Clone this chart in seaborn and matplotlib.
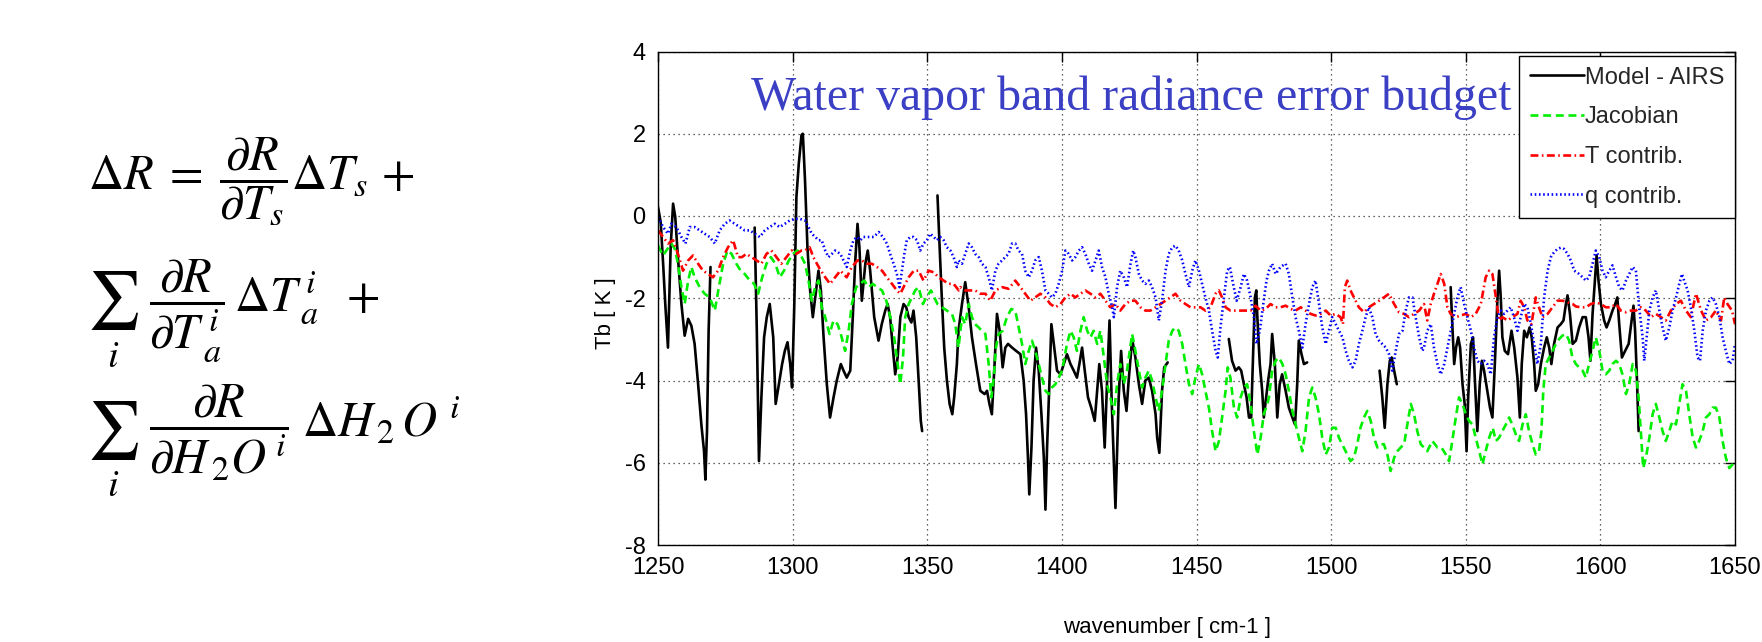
import numpy as np
import pandas as pd
import matplotlib
matplotlib.use("Agg")
import matplotlib.pyplot as plt
from matplotlib.lines import Line2D
import seaborn as sns

# ---------------- data ----------------
# Model - AIRS (black), split into the visible segments
model_seg1_wn = [1250.0,1251.0,1251.9,1252.7,1253.7,1254.7,1255.6,1256.4,1257.4,1258.7,1259.9,1261.2,1262.4,1263.6,1264.9,1266.1,1267.1,1267.6,1268.2,1268.8,1269.5]
model_seg1_tb = [0.22,-0.15,-1.16,-2.14,-3.2,-0.76,0.3,-0.02,-1.0,-2.14,-2.91,-2.5,-2.67,-3.11,-4.09,-5.07,-5.72,-6.41,-5.23,-2.79,-1.24]
model_seg2_wn = [1285.9,1286.7,1287.5,1288.4,1289.4,1290.4,1291.5,1292.8,1293.7,1294.9,1296.1,1297.1,1298.1,1299.1,1299.8,1300.6,1301.4,1302.3,1303.3,1303.8,1304.6,1305.5,1306.5,1307.5,1308.4,1309.6,1310.5,1311.5,1312.7,1313.9,1315.2,1316.4,1317.9,1318.9,1320.1,1321.4,1322.4,1323.2,1324.1,1324.8,1325.7,1327.0,1327.9,1328.8,1330.3,1331.9,1333.1,1334.4,1335.3,1336.2,1337.2,1338.1,1339.0,1340.0,1341.2,1342.2,1343.1,1344.1,1344.9,1345.9,1346.8,1347.6,1348.1]
model_seg2_tb = [-0.28,-2.79,-5.96,-4.41,-2.95,-2.46,-2.14,-2.95,-4.57,-4.09,-3.6,-3.28,-3.07,-3.6,-4.17,-2.22,0.46,1.28,1.97,2.0,0.87,-0.76,-1.81,-2.46,-1.98,-1.33,-1.81,-2.95,-4.09,-4.9,-4.41,-4.0,-3.6,-3.76,-3.93,-3.76,-2.38,-1.16,-0.19,-0.76,-2.06,-1.16,-0.84,-1.33,-2.46,-3.03,-2.63,-2.3,-2.14,-2.46,-3.2,-3.85,-3.44,-2.46,-2.14,-2.22,-2.46,-2.59,-2.3,-2.95,-4.0,-4.98,-5.23]
model_seg3_wn = [1353.8,1354.6,1355.4,1356.3,1357.3,1358.3,1359.3,1360.0,1361.0,1361.6,1362.9,1364.1,1365.4,1366.6,1368.1,1369.7,1371.3,1372.2,1373.1,1374.0,1375.0,1375.9,1376.9,1378.0,1379.0,1380.0,1381.5,1383.0,1384.6,1385.8,1386.7,1387.4,1387.9,1388.7,1389.5,1390.4,1391.4,1392.4,1393.3,1393.9,1394.5,1395.4,1396.1,1397.0,1398.2,1399.5,1400.7,1401.9,1403.2,1404.4,1405.6,1406.5,1407.5,1408.5,1409.7,1410.9,1412.2,1413.1,1413.9,1414.9,1415.9,1416.8,1417.7,1418.5,1419.9,1421.1,1422.0,1423.0,1424.0,1424.8,1426.1,1427.3,1428.6,1429.8,1431.0,1432.3,1433.5,1434.8,1435.4,1436.2,1437.2,1438.0,1439.3]
model_seg3_tb = [0.5,-0.76,-1.98,-3.2,-4.0,-4.57,-4.82,-4.41,-3.6,-2.79,-2.14,-1.61,-2.22,-2.95,-3.6,-4.25,-4.33,-4.25,-4.57,-4.82,-3.6,-2.38,-2.79,-3.68,-3.2,-3.11,-3.2,-3.28,-3.36,-4.0,-4.82,-5.88,-6.77,-5.63,-4.0,-3.2,-3.76,-4.82,-5.88,-7.14,-5.63,-4.0,-2.63,-3.11,-3.76,-3.85,-3.6,-3.36,-3.6,-3.76,-3.93,-3.6,-3.2,-3.76,-4.41,-4.66,-4.98,-4.25,-3.6,-4.25,-5.63,-4.0,-2.54,-4.5,-7.1,-4.41,-3.28,-4.25,-4.74,-4.0,-2.99,-3.44,-4.09,-4.57,-4.0,-3.93,-4.25,-4.82,-5.4,-5.76,-4.25,-3.68,-3.56]
model_seg4_wn = [1462.0,1463.2,1464.5,1465.7,1466.6,1467.6,1468.6,1469.5,1470.3,1471.1,1471.7,1472.2,1472.6,1473.5,1474.4,1475.0,1476.6,1477.5,1478.1,1479.1,1480.0,1480.9,1481.8,1483.1,1484.3,1485.6,1486.6,1487.4,1488.0,1489.0,1489.9,1491.1]
model_seg4_tb = [-2.99,-3.52,-3.76,-3.68,-3.76,-4.09,-4.41,-4.9,-4.9,-3.2,-1.98,-1.81,-2.46,-3.6,-4.25,-4.9,-4.0,-3.6,-2.87,-3.6,-4.9,-4.09,-3.85,-4.25,-4.66,-4.9,-5.07,-4.09,-3.03,-3.36,-3.6,-3.56]
model_seg5_wn = [1518.0,1519.0,1519.9,1520.9,1521.8,1522.5,1523.4,1524.4]
model_seg5_tb = [-3.76,-4.41,-5.15,-4.09,-3.52,-3.44,-3.76,-4.09]
model_seg6_wn = [1544.4,1545.0,1545.7,1546.4,1547.2,1547.9,1548.8,1549.6,1550.3,1550.9,1551.9,1552.7,1553.4,1554.3,1555.2,1556.0,1556.8,1558.0,1559.0,1559.9,1560.8,1561.8,1562.4,1563.0,1563.6,1564.5,1565.7,1567.0,1568.0,1569.2,1570.1,1570.8,1571.7,1572.7,1573.7,1574.5,1575.4,1576.0,1576.9,1577.9,1579.1,1580.1,1581.0,1581.8,1582.8,1584.1,1585.3,1586.3,1587.2,1587.8,1588.7,1589.7,1590.9,1592.1,1593.4,1594.6,1595.6,1596.3,1597.1,1597.8,1598.6,1599.3,1600.2,1601.4,1602.3,1603.3,1604.5,1605.5,1606.3,1607.0,1608.0,1609.2,1610.5,1611.6,1612.3,1612.9,1613.6,1614.2]
model_seg6_tb = [-1.73,-2.63,-3.6,-3.2,-2.95,-3.2,-4.09,-4.57,-5.72,-4.41,-3.11,-2.95,-4.0,-5.23,-4.09,-3.52,-3.76,-4.25,-4.66,-4.9,-3.6,-1.98,-1.33,-1.98,-2.95,-3.28,-3.36,-2.79,-3.2,-3.93,-4.9,-3.6,-2.79,-2.95,-2.71,-2.95,-3.6,-4.25,-4.09,-3.6,-3.2,-2.95,-3.2,-3.6,-3.11,-2.71,-2.63,-2.54,-2.14,-1.93,-2.38,-3.11,-3.03,-2.71,-2.46,-2.46,-2.95,-3.52,-2.38,-1.73,-0.96,-1.57,-2.14,-2.54,-2.71,-2.54,-2.3,-2.14,-1.98,-2.63,-3.44,-3.28,-3.11,-2.54,-2.18,-2.79,-4.0,-5.23]

# Jacobian (green)
jac_wn = [1250.0,1251.9,1253.1,1254.9,1256.2,1257.4,1258.7,1259.9,1261.2,1262.4,1263.6,1265.5,1267.3,1269.2,1271.1,1272.6,1274.2,1275.8,1277.3,1279.1,1280.7,1282.2,1284.1,1285.7,1287.2,1288.7,1290.3,1291.9,1293.6,1295.2,1296.8,1298.6,1300.2,1301.8,
          1302.8,1304.6,1305.9,1307.1,1308.4,1309.6,1310.8,1312.1,1313.7,1315.2,1316.7,1317.9,1319.5,1320.8,1322.0,1323.6,1325.1,1326.6,1328.2,1329.8,1331.3,1333.2,1334.8,1336.3,1337.7,1339.0,1340.0,1341.0,1341.8,1343.1,1344.3,1345.5,1346.8,1348.4,1349.6,1351.4,1352.6,1353.8,1355.5,1357.3,1359.2,1360.4,1361.6,
          1362.9,1364.1,1365.4,1366.6,1367.8,1369.1,1370.3,1371.6,1372.8,1373.8,1374.7,1375.5,1376.5,1378.0,1379.6,1381.2,1382.7,1384.2,1385.2,1386.4,1387.7,1388.9,1390.1,1391.4,1392.6,1393.9,1395.1,1396.3,1397.6,1398.8,1400.1,1401.0,1401.9,1403.2,1404.4,1405.6,1406.9,1408.1,1409.4,1410.6,1411.8,1413.1,1414.3,1415.6,1416.8,1418.0,1419.3,
          1420.5,1421.7,1423.0,1424.2,1425.2,1426.1,1427.3,1428.6,1429.8,1431.0,1432.3,1433.5,1434.8,1436.0,1437.2,1438.5,1439.7,1441.0,1442.2,1443.4,1444.7,1445.9,1447.2,1448.4,1449.6,1450.9,1452.1,1453.3,1454.6,1455.8,1457.1,1458.3,1459.5,1460.8,1461.6,1462.6,1463.9,1465.1,1466.4,1467.6,1468.8,1470.1,1471.3,1472.6,1473.8,1475.0,
          1476.3,1476.9,1478.1,1479.4,1480.6,1481.9,1483.1,1484.3,1485.6,1486.8,1488.0,1489.3,1490.5,1491.8,1493.0,1494.2,1495.5,1496.7,1498.0,1499.2,1500.4,1501.7,1502.9,1504.1,1505.4,1507.2,1508.5,1509.7,1510.9,1512.2,1513.4,1514.7,1515.9,1517.2,1518.4,1519.6,1520.9,1522.1,1523.4,1524.6,1525.8,1527.1,1528.3,1529.6,1530.8,1532.0,1533.3,
          1534.5,1535.7,1537.6,1539.5,1541.0,1542.6,1543.8,1545.0,1546.3,1547.5,1548.8,1550.0,1551.2,1552.5,1553.7,1555.0,1556.2,1557.4,1558.7,1560.0,1561.2,1562.4,1563.6,1564.9,1566.1,1567.3,1568.6,1569.8,1571.1,1572.3,1573.5,1574.8,1576.0,1577.2,1578.1,1578.8,1579.7,1581.0,1582.2,1583.5,1584.7,1585.9,1587.2,1588.4,1589.6,
          1590.9,1592.1,1593.4,1594.6,1595.8,1597.1,1598.3,1599.6,1600.8,1602.0,1603.3,1604.5,1605.8,1607.0,1608.2,1609.5,1610.7,1612.0,1613.2,1614.2,1615.0,1615.9,1616.9,1618.2,1619.4,1620.6,1621.9,1623.1,1624.3,1625.6,1626.8,1628.1,1629.3,1630.5,1631.8,1633.0,1634.3,1635.5,1636.7,1638.0,1639.2,1640.5,1641.7,1642.9,1644.2,1645.4,1646.6,1647.9,1649.1,1650.0]
jac_tb = [-0.72,-0.96,-0.84,-0.67,-0.79,-1.16,-1.73,-2.14,-1.57,-1.24,-1.49,-1.73,-1.89,-1.98,-2.3,-1.73,-1.16,-0.84,-0.92,-1.16,-1.33,-1.41,-1.57,-1.65,-1.89,-1.49,-1.16,-1.0,-1.16,-1.49,-1.33,-1.08,-0.92,-0.84,
          -0.92,-1.16,-1.57,-2.06,-1.73,-1.57,-2.22,-2.46,-2.87,-2.54,-2.63,-2.87,-3.28,-2.79,-2.14,-1.73,-1.65,-1.57,-1.73,-1.65,-1.73,-1.81,-2.06,-2.46,-2.95,-3.6,-4.09,-3.44,-2.46,-2.14,-1.98,-1.81,-1.73,-2.14,-1.98,-1.81,-1.98,-2.14,-2.22,-2.3,-2.38,-2.63,-3.2,
          -2.46,-2.63,-2.14,-2.46,-2.63,-2.71,-2.79,-2.87,-3.6,-4.41,-3.93,-3.2,-2.87,-2.79,-2.46,-2.26,-2.3,-2.79,-3.11,-3.6,-3.28,-3.03,-3.28,-3.6,-3.93,-4.25,-4.33,-4.17,-4.09,-3.93,-3.76,-3.44,-3.11,-2.79,-2.95,-3.28,-2.79,-2.46,-2.79,-2.95,-2.79,-3.11,-2.79,-3.44,-4.09,-4.41,-4.82,
          -4.09,-3.6,-4.09,-3.76,-3.28,-2.87,-3.28,-3.76,-4.17,-3.93,-3.76,-4.0,-4.41,-4.74,-4.25,-3.6,-3.03,-2.79,-2.71,-2.79,-3.11,-3.6,-4.09,-4.33,-3.93,-3.6,-3.85,-4.25,-4.66,-5.23,-5.72,-5.48,-4.9,-4.25,-3.68,-3.93,-4.66,-4.9,-4.41,-4.17,-4.09,-4.57,-5.23,-5.8,-5.4,-4.82,
          -4.57,-4.41,-3.76,-3.52,-3.44,-3.6,-3.85,-4.25,-4.74,-5.07,-5.39,-5.72,-5.23,-4.41,-4.17,-4.41,-4.82,-5.39,-5.8,-5.63,-5.15,-5.15,-5.39,-5.55,-5.72,-5.96,-5.88,-5.55,-5.15,-4.9,-4.74,-4.98,-5.39,-5.63,-5.55,-5.55,-5.8,-6.2,-5.88,-5.72,-5.63,-5.55,-5.07,-4.57,-4.82,-5.23,-5.55,
          -5.63,-5.72,-5.47,-5.63,-5.63,-5.8,-5.96,-5.47,-4.9,-4.41,-4.57,-4.82,-4.98,-5.07,-5.39,-5.72,-6.04,-5.72,-5.39,-5.15,-5.47,-5.39,-5.23,-5.07,-4.9,-5.07,-5.31,-5.47,-5.07,-4.82,-5.23,-5.55,-5.8,-5.72,-5.23,-4.25,-3.6,-3.44,-3.28,-3.11,-2.99,-2.91,-2.87,-3.03,-3.44,
          -3.6,-3.68,-3.76,-3.93,-3.6,-3.28,-2.95,-3.28,-3.76,-3.85,-3.76,-3.6,-3.52,-3.6,-3.85,-4.33,-4.09,-3.6,-3.76,-4.41,-5.23,-6.13,-5.88,-5.39,-4.82,-4.57,-4.9,-5.23,-5.47,-5.23,-4.98,-5.07,-4.57,-4.09,-4.25,-4.82,-5.39,-5.63,-5.47,-5.23,-4.9,-4.82,-4.66,-4.66,-4.9,-5.47,-5.88,-6.13,-6.04,-5.96]

# T contrib. (red)
tcon_wn = [1250.0,1251.9,1253.7,1255.6,1257.4,1259.3,1261.2,1263.0,1264.9,1266.7,1268.6,1270.4,1272.3,1274.2,1276.0,1277.9,1279.7,1281.2,1282.8,1284.7,1286.6,1288.4,1290.3,1292.1,1294.0,1295.8,1297.7,1299.6,1301.4,1303.3,
           1304.6,1306.3,1307.7,1309.0,1310.5,1312.1,1313.9,1315.8,1317.7,1320.1,1322.0,1324.1,1325.7,1327.6,1329.4,1331.3,1333.2,1335.0,1336.9,1338.7,1340.0,1341.2,1343.1,1345.0,1346.8,1348.6,1350.5,1352.4,1354.2,1356.1,1357.9,1359.8,1361.7,
           1362.3,1364.1,1366.0,1367.8,1369.7,1371.6,1373.4,1375.3,1377.8,1380.2,1382.7,1384.6,1386.4,1388.3,1390.1,1392.0,1393.9,1395.7,1397.6,1399.5,1401.3,1403.2,1405.0,1406.9,1408.7,1410.6,1412.5,1414.3,1416.2,1418.0,
           1419.9,1421.7,1423.6,1425.5,1427.3,1429.2,1431.0,1432.9,1434.8,1436.6,1438.5,1440.3,1442.2,1444.1,1445.9,1447.8,1449.6,1451.5,1453.3,1455.2,1457.1,1458.3,1459.5,1460.8,1462.6,1464.5,1466.4,1468.2,1470.1,1471.9,1473.8,1475.7,
           1477.5,1479.4,1481.2,1483.1,1485.0,1486.8,1488.7,1490.5,1492.4,1494.2,1496.1,1498.0,1499.8,1501.7,1503.5,1504.4,1505.1,1506.0,1507.2,1508.5,1510.3,1512.2,1514.0,1515.9,1517.8,1519.6,1521.5,1523.4,1525.2,1527.1,1528.9,1530.8,1532.7,
           1534.5,1535.7,1537.0,1538.2,1539.5,1540.7,1542.0,1543.2,1544.4,1546.3,1548.1,1550.0,1551.9,1553.7,1555.6,1557.4,1558.7,1559.9,1561.2,1562.4,1563.6,1565.5,1567.3,1569.2,1570.4,1571.7,1572.9,1574.4,1576.0,1577.2,1578.5,1580.4,1582.2,1584.1,1586.0,1587.8,1589.7,
           1590.9,1592.8,1594.6,1596.5,1598.3,1600.2,1602.0,1603.9,1605.8,1607.6,1609.5,1611.3,1613.2,1615.0,1616.9,1618.8,1620.6,1622.5,1624.3,1626.2,1628.1,1629.9,1631.8,1633.6,1635.5,1637.4,1639.2,1641.1,1642.9,1644.8,1646.0,1647.2,1648.9,1650.0]
tcon_tb = [-0.35,-0.51,-0.67,-0.59,-0.92,-1.33,-1.08,-0.96,-1.16,-1.33,-1.41,-1.49,-1.33,-1.0,-0.76,-0.59,-1.0,-1.0,-0.92,-1.0,-1.08,-1.16,-0.92,-0.84,-1.0,-1.16,-1.0,-0.84,-0.92,-0.84,
           -0.84,-0.76,-1.0,-1.16,-1.33,-1.49,-1.65,-1.49,-1.33,-1.49,-1.24,-1.08,-1.08,-1.16,-1.16,-1.24,-1.33,-1.49,-1.65,-1.81,-1.89,-1.73,-1.49,-1.33,-1.33,-1.57,-1.33,-1.37,-1.49,-1.57,-1.65,-1.65,-1.81,
           -1.73,-1.81,-1.81,-1.81,-1.89,-1.89,-2.06,-1.81,-1.73,-1.77,-1.57,-1.73,-1.89,-2.06,-1.98,-1.89,-1.98,-2.14,-2.22,-2.14,-1.98,-1.89,-1.98,-1.89,-1.81,-1.89,-1.98,-1.89,-2.06,-2.22,
           -2.14,-2.3,-2.14,-2.06,-2.06,-2.22,-2.3,-2.3,-2.22,-2.14,-2.06,-1.98,-1.89,-2.06,-2.14,-2.22,-2.22,-2.22,-2.3,-2.22,-1.89,-1.81,-1.98,-2.22,-2.3,-2.3,-2.3,-2.3,-2.3,-2.18,-2.3,-2.26,
           -2.14,-2.22,-2.22,-2.18,-2.26,-2.3,-2.22,-2.3,-2.38,-2.42,-2.38,-2.3,-2.42,-2.38,-2.46,-2.63,-1.73,-1.57,-1.81,-1.98,-2.22,-2.34,-2.22,-2.14,-2.06,-1.98,-1.89,-2.14,-2.34,-2.38,-2.46,-2.38,-2.3,
           -2.14,-2.54,-2.14,-1.89,-1.65,-1.41,-1.65,-2.22,-2.38,-2.46,-2.42,-2.38,-2.46,-2.38,-2.14,-1.49,-1.33,-1.41,-1.98,-2.54,-2.46,-2.54,-2.46,-2.38,-2.06,-2.22,-2.54,-2.63,-1.98,-2.22,-2.46,-2.38,-2.22,-2.06,-2.06,-2.1,-2.14,
           -2.2,-2.22,-2.22,-2.14,-2.1,-2.14,-2.22,-2.22,-2.14,-2.3,-2.34,-2.3,-2.3,-2.22,-2.3,-2.46,-2.38,-2.46,-2.54,-2.3,-2.14,-2.06,-2.3,-2.46,-1.89,-2.3,-2.54,-2.46,-2.3,-2.54,-1.98,-2.14,-2.3,-2.63]

# q contrib. (blue)
qcon_wn = [1250.0,1251.9,1253.7,1255.0,1256.8,1258.7,1260.2,1261.8,1263.6,1265.5,1267.3,1269.2,1271.1,1272.9,1274.8,1276.6,1278.5,1280.4,1282.2,1284.1,1285.9,1287.8,1289.7,1291.5,1293.4,1295.2,1297.1,1298.9,1300.8,1302.7,
           1304.6,1305.9,1307.1,1308.4,1309.6,1310.8,1312.1,1313.3,1314.6,1315.8,1317.7,1318.9,1320.1,1321.4,1322.6,1323.9,1325.1,1326.3,1328.2,1330.1,1332.0,1333.5,1335.0,1336.2,1337.5,1338.7,1339.7,1340.6,1341.5,1342.4,1343.7,1344.9,1346.2,1347.4,1348.6,1349.9,1351.1,1352.4,1353.6,1354.8,1356.1,1357.3,1358.6,1359.8,1361.0,
           1361.6,1362.9,1364.1,1365.4,1366.6,1367.8,1369.1,1370.3,1371.6,1372.8,1374.0,1375.3,1376.5,1377.8,1379.0,1380.2,1381.5,1382.7,1383.9,1385.2,1386.4,1387.7,1388.9,1390.1,1391.4,1392.6,1393.9,1395.1,1396.3,1397.6,1398.8,1400.1,1401.3,1402.5,1403.8,1405.0,1406.3,1407.5,1408.7,1410.0,1411.2,1412.5,1413.7,1414.9,1416.2,1417.4,1418.7,
           1419.3,1420.5,1421.7,1423.0,1424.2,1425.5,1426.5,1427.3,1428.6,1429.8,1431.0,1432.3,1433.5,1434.8,1436.0,1437.2,1438.5,1439.7,1441.0,1442.2,1443.4,1444.7,1445.9,1447.2,1448.4,1449.6,1450.9,1452.1,1453.3,1454.6,1455.8,1457.1,1457.9,1458.9,1460.2,1461.4,1462.4,1463.6,1464.9,1466.4,1467.6,1468.8,1470.1,1471.3,1472.3,1473.5,1474.8,1476.0,
           1476.9,1478.1,1479.4,1481.2,1483.1,1484.3,1485.6,1486.8,1488.0,1489.3,1490.5,1491.8,1493.0,1494.2,1495.5,1496.7,1498.0,1499.2,1500.4,1502.3,1504.2,1505.4,1506.6,1507.9,1509.1,1510.3,1511.6,1512.8,1514.0,1515.3,1516.5,1517.8,1519.0,1520.3,1521.5,1522.7,1524.0,1525.2,1526.5,1527.7,1528.9,1530.2,1531.4,1532.7,1533.9,
           1534.5,1535.7,1537.0,1538.2,1539.5,1540.7,1542.0,1543.2,1544.4,1545.7,1546.9,1548.1,1549.4,1550.6,1551.9,1553.1,1554.3,1555.6,1556.8,1558.0,1559.3,1560.5,1561.8,1563.0,1564.2,1565.5,1566.7,1567.9,1569.2,1570.4,1571.7,1572.9,1574.2,1575.4,1576.6,1577.9,1579.1,1580.4,1581.6,1582.8,1584.1,1585.3,1586.5,1587.8,1589.0,1590.3,
           1592.1,1593.4,1594.6,1595.8,1597.1,1598.3,1599.6,1600.8,1602.0,1603.3,1604.5,1605.8,1607.0,1608.2,1609.5,1610.7,1612.0,1613.2,1614.4,1615.7,1616.3,1617.2,1618.2,1619.4,1620.6,1621.9,1623.1,1624.3,1625.6,1626.8,1628.1,1629.3,1630.3,1631.1,1632.4,1633.6,1634.9,1636.1,1637.0,1638.0,1639.2,1640.5,1641.7,1642.9,1644.2,1645.4,1646.6,1647.9,1649.1,1650.0]
qcon_tb = [-0.02,-0.27,-0.43,-0.19,-0.27,-0.51,-0.67,-0.27,-0.27,-0.35,-0.43,-0.51,-0.67,-0.35,-0.19,-0.11,-0.19,-0.27,-0.35,-0.35,-0.43,-0.51,-0.35,-0.27,-0.19,-0.27,-0.19,-0.11,-0.07,-0.07,
           -0.11,-0.27,-0.43,-0.51,-0.59,-0.59,-0.84,-1.0,-0.92,-0.84,-0.92,-1.08,-1.24,-0.84,-0.59,-0.51,-0.59,-0.51,-0.51,-0.51,-0.39,-0.51,-0.67,-0.92,-1.16,-1.41,-1.73,-1.33,-0.92,-0.59,-0.51,-0.51,-0.59,-0.84,-0.67,-0.59,-0.43,-0.51,-0.59,-0.51,-0.59,-0.76,-0.84,-1.0,-1.24,
           -1.08,-1.16,-0.92,-0.67,-0.76,-0.92,-1.0,-1.16,-1.24,-1.49,-1.81,-1.33,-1.16,-1.08,-1.0,-0.92,-0.67,-0.67,-0.84,-0.92,-1.33,-1.49,-1.33,-1.08,-1.0,-1.33,-1.81,-1.89,-1.98,-1.89,-1.65,-1.33,-0.84,-0.92,-1.08,-1.0,-0.84,-0.76,-0.92,-1.16,-1.33,-1.08,-0.84,-1.24,-1.49,-1.89,-2.22,
           -2.46,-1.73,-1.33,-1.49,-1.73,-1.16,-0.84,-1.0,-1.41,-1.57,-1.65,-1.57,-1.73,-1.98,-2.54,-2.06,-1.33,-0.92,-0.76,-0.72,-0.84,-1.08,-1.41,-1.73,-1.33,-1.08,-1.33,-1.65,-1.98,-2.3,-2.79,-3.28,-3.44,-2.71,-1.98,-1.33,-1.24,-1.65,-2.06,-1.73,-1.41,-1.57,-1.98,-2.46,-3.11,-2.79,-2.14,-1.57,
           -1.33,-1.16,-1.41,-1.24,-1.16,-1.41,-1.98,-2.46,-2.79,-3.2,-2.63,-2.14,-1.73,-1.57,-2.14,-2.71,-3.11,-2.79,-2.46,-2.71,-2.95,-3.28,-3.52,-3.68,-3.52,-3.11,-2.79,-2.46,-2.22,-2.46,-2.87,-3.03,-3.11,-3.2,-3.36,-3.76,-3.28,-2.87,-2.79,-2.3,-1.98,-1.98,-2.46,-2.95,-3.28,
           -3.2,-2.79,-2.63,-3.2,-3.6,-3.85,-3.6,-3.2,-2.79,-2.38,-1.98,-1.73,-2.14,-2.46,-2.79,-3.2,-3.52,-3.6,-3.52,-3.6,-3.85,-2.95,-2.46,-2.3,-2.38,-2.3,-2.22,-2.46,-2.79,-2.46,-2.14,-2.22,-2.63,-3.11,-3.6,-3.11,-1.98,-1.33,-1.0,-0.88,-0.8,-0.77,-0.8,-0.92,-1.08,-1.33,
           -1.41,-1.49,-1.57,-1.49,-1.16,-0.84,-1.0,-1.33,-1.49,-1.33,-1.2,-1.49,-1.73,-1.81,-1.57,-1.41,-1.24,-1.33,-2.22,-2.95,-3.52,-2.95,-2.3,-1.98,-1.81,-2.3,-2.71,-3.03,-2.71,-2.3,-1.98,-1.65,-1.41,-1.57,-1.81,-2.22,-2.79,-3.44,-3.52,-2.79,-2.3,-2.06,-1.98,-2.14,-2.46,-2.95,-3.28,-3.6,-3.52,-3.11]

series_labels = ["Model - AIRS", "Jacobian", "T contrib.", "q contrib."]
x_ticks = [1250, 1300, 1350, 1400, 1450, 1500, 1550, 1600, 1650]
y_ticks = [-8, -6, -4, -2, 0, 2, 4]
title_text = "Water vapor band radiance error budget"
x_label = "wavenumber [ cm-1 ]"
y_label = "Tb [ K ]"

# ---------------- style ----------------
sns.set_theme(style="white")
plt.rcParams["font.family"] = ["Liberation Sans", "DejaVu Sans"]
plt.rcParams["axes.unicode_minus"] = False
plt.rcParams["mathtext.fontset"] = "stix"

W, H = 1762, 642
fig = plt.figure(figsize=(W / 100, H / 100), dpi=100)
fig.patch.set_facecolor("white")
ax_l, ax_r, ax_t, ax_b = 658, 1735, 51.5, 545
ax = fig.add_axes([ax_l / W, 1 - ax_b / H, (ax_r - ax_l) / W, (ax_b - ax_t) / H])

# ---------------- data frames ----------------
segs_wn = [model_seg1_wn, model_seg2_wn, model_seg3_wn, model_seg4_wn, model_seg5_wn, model_seg6_wn]
segs_tb = [model_seg1_tb, model_seg2_tb, model_seg3_tb, model_seg4_tb, model_seg5_tb, model_seg6_tb]
model_df = pd.concat([pd.DataFrame({"wn": w, "tb": t, "seg": i}) for i, (w, t) in enumerate(zip(segs_wn, segs_tb))],
                     ignore_index=True)
jac_df = pd.DataFrame({"wn": jac_wn, "tb": jac_tb})
tcon_df = pd.DataFrame({"wn": tcon_wn, "tb": tcon_tb})
qcon_df = pd.DataFrame({"wn": qcon_wn, "tb": qcon_tb})

black = "#000000"
green = "#00ee00"
red = "#ff0000"
blue = "#0000ff"
lw = 1.9
green_ls = (0, (3.0, 1.8))
red_ls = (0, (3.0, 1.3, 0.6, 1.3))
blue_ls = (0, (0.6, 1.0))

sns.lineplot(data=model_df, x="wn", y="tb", units="seg", estimator=None, color=black, lw=lw, ax=ax, legend=False)
sns.lineplot(data=jac_df, x="wn", y="tb", estimator=None, color=green, lw=lw, linestyle=green_ls, ax=ax, legend=False)
sns.lineplot(data=tcon_df, x="wn", y="tb", estimator=None, color=red, lw=lw, linestyle=red_ls, ax=ax, legend=False)
sns.lineplot(data=qcon_df, x="wn", y="tb", estimator=None, color=blue, lw=lw, linestyle=blue_ls, ax=ax, legend=False)

ax.set_xlim(x_ticks[0], x_ticks[-1])
ax.set_ylim(y_ticks[0], y_ticks[-1])
ax.set_xticks(x_ticks)
ax.set_yticks(y_ticks)
ax.set_xticklabels([str(v) for v in x_ticks])
ax.set_yticklabels([str(v) for v in y_ticks])
ax.tick_params(direction="in", top=True, right=True, length=7, width=1.0, labelsize=17, colors="black")
ax.tick_params(axis="x", pad=9)
ax.tick_params(axis="y", pad=9)
ax.grid(True, linestyle=(0, (1, 3)), color="#333333", linewidth=0.9)
for s in ax.spines.values():
    s.set_visible(True)
    s.set_color("black")
    s.set_linewidth(1.0)

ax.set_xlabel(x_label, fontsize=16, color="black")
ax.set_ylabel(y_label, fontsize=16, color="black")
ax.xaxis.set_label_coords(0.473, -0.145)
ax.yaxis.set_label_coords(-0.039, 0.469)

ax.text(0.086, 0.881, title_text, transform=ax.transAxes, fontsize=34.5, color="#3a3fc4",
        family=["Liberation Serif", "DejaVu Serif"], ha="left", va="baseline")

handles = [Line2D([], [], color=black, lw=lw),
           Line2D([], [], color=green, lw=lw, linestyle=green_ls),
           Line2D([], [], color=red, lw=lw, linestyle=red_ls),
           Line2D([], [], color=blue, lw=lw, linestyle=blue_ls)]
leg = ax.legend(handles, series_labels, loc="upper right", bbox_to_anchor=(1735 / W, 1 - 56 / H),
                bbox_transform=fig.transFigure, fontsize=17, frameon=True, fancybox=False,
                framealpha=1, edgecolor="black", handlelength=2.3, handletextpad=0.05,
                labelspacing=0.75, borderpad=0.45, borderaxespad=0)
leg.get_frame().set_linewidth(1.0)

# ---------------- equations on the left ----------------
eq_size = 35
# row 1
fig.text(88 / W, 1 - 182 / H, r"$\Delta R\;=\;\dfrac{\partial R}{\partial T_s}\Delta T_s\,+$",
         fontsize=eq_size, color="black", ha="left", va="center")
# rows 2 and 3: big summation sign, index below, then the fraction term
rows = [(301, 311, r"$\dfrac{\partial R}{\partial T_{\,a}^{\,i}}\,\Delta T_{\,a}^{\,i}\;\;+$"),
        (430, 433, r"$\dfrac{\partial R}{\partial H_{\,2}O^{\,i}}\;\Delta H_{\,2}\,O^{\;i}$")]
for ybar, yterm, term in rows:
    fig.text(87 / W, 1 - ybar / H, r"$\sum$", fontsize=42, color="black", ha="left", va="center")
    fig.text(113 / W, 1 - (ybar + 56) / H, r"$i$", fontsize=28, color="black", ha="center", va="center")
    fig.text(149 / W, 1 - yterm / H, term, fontsize=eq_size, color="black", ha="left", va="center")

fig.savefig("out.png", dpi=100, facecolor="white")
